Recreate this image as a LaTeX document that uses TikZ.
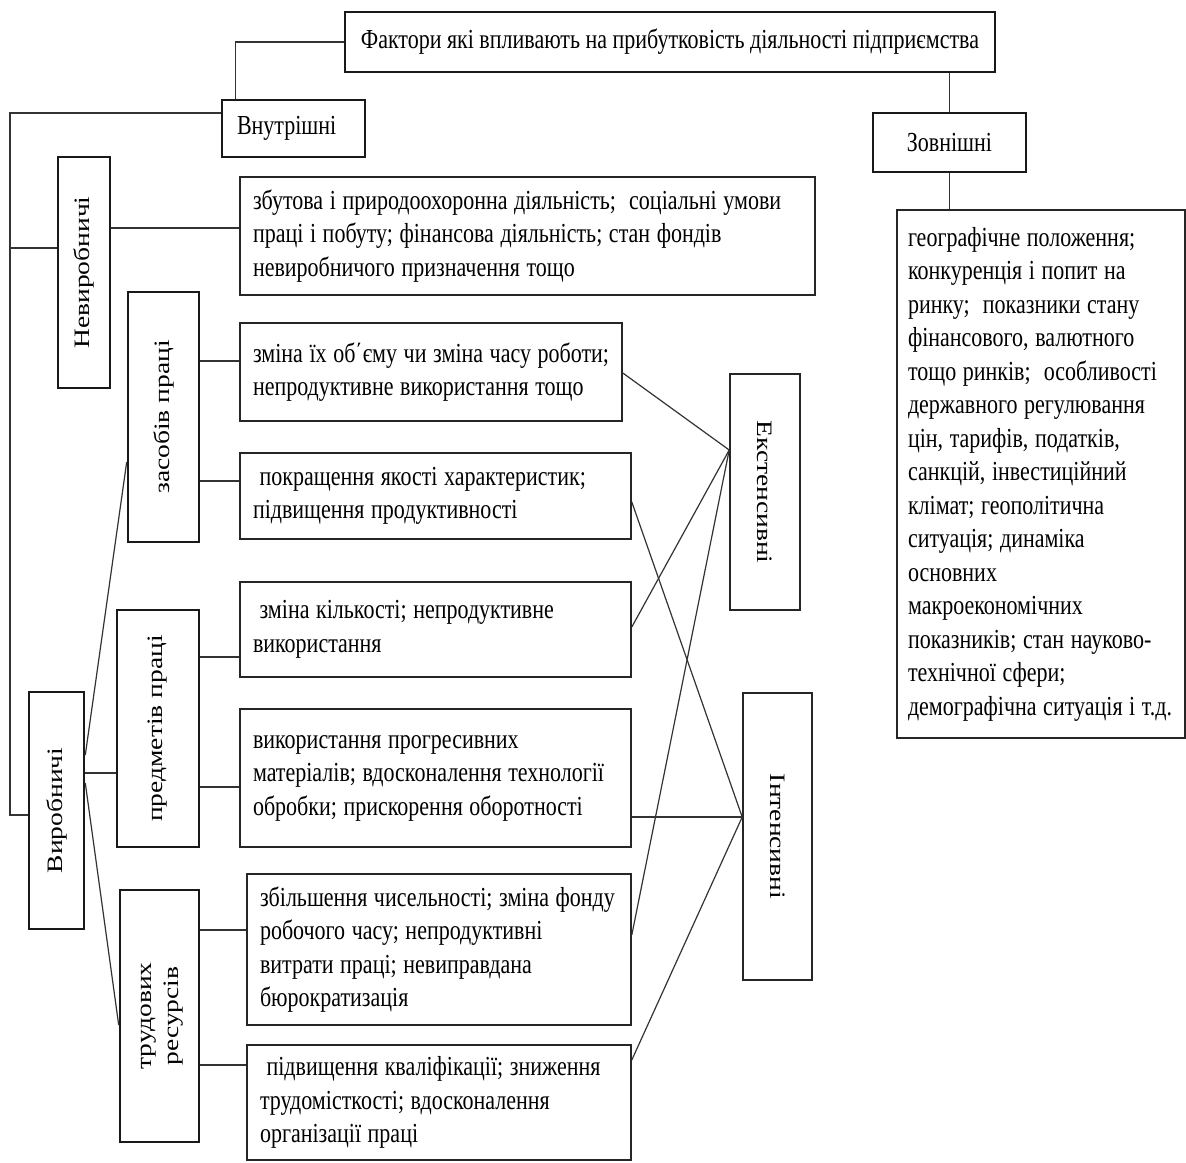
\documentclass[tikz,border=0pt]{standalone}
\usepackage{fontspec}
\usepackage{graphicx}
\setmainfont[FakeStretch=0.8]{Liberation Serif}
\newfontfamily\rotfont{Liberation Serif}
\newcommand\vtext[1]{\rotatebox{90}{\scalebox{1}[0.8]{\rotfont #1}}}
\newcommand\vtextr[1]{\rotatebox{-90}{\scalebox{1}[0.8]{\rotfont #1}}}
\begin{document}
\begin{tikzpicture}[x=1pt,y=-1pt,
  every node/.style={font=\fontsize{27.5}{33.5}\selectfont, text=black},
  thickbox/.style={draw=black!90, line width=2.6pt, inner sep=0pt},
  textbox/.style={draw=black!85, line width=1.6pt, inner xsep=13pt, inner ysep=0pt, align=left,
    execute at begin node={\spaceskip=0.24em\xspaceskip=0.3em\relax}},
  sidebox/.style={draw=black!85, line width=1.6pt, inner sep=0pt},
  conn/.style={line width=1.2pt, draw=black!80}
]
\fill[white] (0,0) rectangle (1186,1162);
\useasboundingbox (0,0) rectangle (1186,1162);

% top level
\node[thickbox, minimum width=650pt, minimum height=60pt] (title) at (670,42)
  {Фактори які впливають на прибутковість діяльності підприємства};
\node[thickbox, minimum width=143pt, minimum height=57pt, inner xsep=15pt, text width=113pt, align=left] (vn) at (293.5,128.5) {Внутрішні};
\node[thickbox, minimum width=153pt, minimum height=59pt] (zv) at (949.5,142.5) {Зовнішні};

% left category boxes
\node[thickbox, minimum width=52pt, minimum height=231pt] (nev) at (84,272.5) {\vtext{Невиробничі}};
\node[thickbox, minimum width=55pt, minimum height=237pt] (vyr) at (56.5,810.5) {\vtext{Виробничі}};
\node[thickbox, minimum width=71pt, minimum height=250pt] (zas) at (163.5,417) {\vtext{засобів праці}};
\node[thickbox, minimum width=82pt, minimum height=237pt] (pred) at (158,728.5) {\vtext{предметів праці}};
\node[thickbox, minimum width=79pt, minimum height=252pt] (trud) at (159.5,1016)
  {\vtext{\begin{tabular}{@{}c@{}}трудових\\ресурсів\end{tabular}}};

% right category boxes
\node[sidebox, minimum width=70pt, minimum height=236pt] (ext) at (765,492) {\vtextr{Екстенсивні}};
\node[sidebox, minimum width=69pt, minimum height=287pt] (int) at (777.5,836.5) {\vtextr{Інтенсивні}};

% text boxes
\node[textbox, minimum width=575pt, minimum height=118pt, text width=549pt] (b1) at (527.5,236)
  {збутова і природоохоронна діяльність;\ \ соціальні умови\\праці і побуту; фінансова діяльність; стан фондів\\невиробничого призначення тощо};
\node[textbox, minimum width=382pt, minimum height=98pt, text width=372pt, inner xsep=5pt] (b2) at (431,372)
  {\hspace*{8pt}зміна їх об΄єму чи зміна часу роботи;\\\hspace*{8pt}непродуктивне використання тощо};
\node[textbox, minimum width=391pt, minimum height=86pt, text width=365pt] (b3) at (435.5,496)
  {\ покращення якості характеристик;\\підвищення продуктивності};
\node[textbox, minimum width=391pt, minimum height=95pt, text width=365pt] (b4) at (435.5,629.5)
  {\ зміна кількості; непродуктивне\\використання};
\node[textbox, minimum width=391pt, minimum height=138pt, text width=365pt] (b5) at (435.5,778)
  {використання прогресивних\\матеріалів; вдосконалення технології\\обробки; прискорення оборотності};
\node[textbox, minimum width=384pt, minimum height=151pt, text width=358pt] (b6) at (439,949.5)
  {збільшення чисельності; зміна фонду\\робочого часу; непродуктивні\\витрати праці; невиправдана\\бюрократизація};
\node[textbox, minimum width=384pt, minimum height=115pt, text width=358pt] (b7) at (439,1102.5)
  {\ підвищення кваліфікації; зниження\\трудомісткості; вдосконалення\\організації праці};

\node[textbox, minimum width=288pt, minimum height=528pt, text width=266pt, inner xsep=11pt] (rb) at (1041,474)
  {географічне положення;\\конкуренція і попит на\\ринку;\ \ показники стану\\фінансового, валютного\\тощо ринків;\ \ особливості\\державного регулювання\\цін, тарифів, податків,\\санкцій, інвестиційний\\клімат; геополітична\\ситуація; динаміка\\основних\\макроекономічних\\показників; стан науково-\\технічної сфери;\\демографічна ситуація і т.д.};

% connectors: top
\draw[conn] (title.west |- 0,42) -| ([xshift=15pt]vn.north west);
\draw[conn] (title.south -| zv.north) -- (zv.north);
\draw[conn] (zv.south) -- (zv.south |- rb.north);

% connectors: left trunk
\draw[conn] (vn.west |- 0,113) -| (10,815) -- (vyr.west |- 0,815);
\draw[conn] (10,248) -- (nev.west |- 0,248);
\draw[conn] (nev.east |- 0,228) -- (b1.west |- 0,228);

\draw[conn] (vyr.east |- 0,755) -- (zas.west |- 0,462);
\draw[conn] (vyr.east |- 0,773) -- (pred.west |- 0,773);
\draw[conn] (vyr.east |- 0,783) -- (trud.west |- 0,1025);

\draw[conn] (zas.east |- 0,361) -- (b2.west |- 0,361);
\draw[conn] (zas.east |- 0,481) -- (b3.west |- 0,481);
\draw[conn] (pred.east |- 0,657) -- (b4.west |- 0,657);
\draw[conn] (pred.east |- 0,787) -- (b5.west |- 0,787);
\draw[conn] (trud.east |- 0,930) -- (b6.west |- 0,930);
\draw[conn] (trud.east |- 0,1065) -- (b7.west |- 0,1065);

% connectors: right
\coordinate (extin) at (ext.west |- 0,450);
\coordinate (intin) at (int.west |- 0,817);
\draw[conn] (b2.east |- 0,373) -- (extin);
\draw[conn] (b4.east |- 0,627) -- (extin);
\draw[conn] (b6.east |- 0,935) -- (extin);
\draw[conn] (b3.east |- 0,502) -- (intin);
\draw[conn] (b5.east |- 0,817) -- (intin);
\draw[conn] (b7.east |- 0,1060) -- (intin);
\end{tikzpicture}
\end{document}
